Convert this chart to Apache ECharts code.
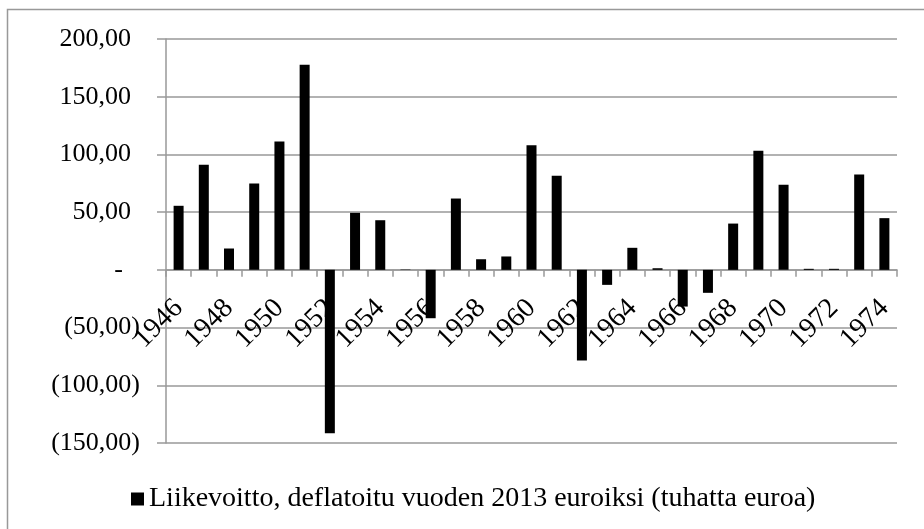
<!DOCTYPE html>
<html>
<head>
<meta charset="utf-8">
<script src="https://cdn.jsdelivr.net/npm/echarts@6/dist/echarts.min.js"></script>
<style>html,body{margin:0;padding:0;background:#fff;}#c{width:924px;height:529px;}</style>
</head>
<body>
<div id="c"></div>
<script>
const years = ['1946','1947','1948','1949','1950','1951','1952','1953','1954','1955','1956','1957','1958','1959','1960','1961','1962','1963','1964','1965','1966','1967','1968','1969','1970','1971','1972','1973','1974'];
const profit = [55.5, 91.0, 18.5, 74.8, 111.2, 177.6, -141.5, 49.4, 43.0, 0.3, -41.9, 61.8, 9.2, 11.6, 108.0, 81.5, -78.6, -13.0, 19.1, 1.4, -31.8, -19.9, 40.1, 103.1, 73.7, 0.9, 0.9, 82.6, 44.8];
const seriesName = 'Liikevoitto, deflatoitu vuoden 2013 euroiksi (tuhatta euroa)';
const yMin = -150, yMax = 200, yStep = 50;

const FONT = 'Liberation Serif';
const fmt = v => Math.abs(v).toFixed(2).replace('.', ',');

const gridTop = 39, gridBottom = 86, H = 529;
const plotH = H - gridTop - gridBottom;
const zeroOffset = -plotH * (0 - yMin) / (yMax - yMin);

const chart = echarts.init(document.getElementById('c'));
chart.setOption({
  animation: false,
  backgroundColor: '#fff',
  graphic: [{
    type: 'rect', silent: true, z: -1,
    shape: { x: 7.5, y: 9.5, width: 1000, height: 1000 },
    style: { fill: 'none', stroke: '#999', lineWidth: 1.5 }
  }],
  grid: { left: 166, right: 27, top: gridTop, bottom: gridBottom, containLabel: false },
  legend: {
    left: 126, top: 480,
    itemWidth: 13, itemHeight: 13, icon: 'rect',
    textStyle: { fontFamily: FONT, fontSize: 28, color: '#000' },
    data: [seriesName]
  },
  xAxis: {
    type: 'category', data: years, boundaryGap: true,
    offset: zeroOffset,
    axisLine: { onZero: false, lineStyle: { color: '#999', width: 1.5 } },
    axisTick: { show: true, interval: 0, length: 7, inside: false, lineStyle: { color: '#999', width: 1.5 } },
    axisLabel: { interval: 1, rotate: 45, margin: 34, fontFamily: FONT, fontSize: 28, color: '#000' },
    splitLine: { show: false }
  },
  yAxis: {
    type: 'value', min: yMin, max: yMax, interval: yStep,
    axisLine: { show: true, lineStyle: { color: '#999', width: 1.5 } },
    axisTick: { show: true, length: 9, inside: false, lineStyle: { color: '#999', width: 1.5 } },
    splitLine: { show: true, lineStyle: { color: '#999', width: 1.5 } },
    axisLabel: {
      margin: 26, fontFamily: FONT, fontSize: 26, color: '#000',
      formatter: v => v === 0 ? '{z|-}' : (v < 0 ? '(' + fmt(v) + ')' : '{p|' + fmt(v) + '}'),
      rich: {
        p: { fontFamily: FONT, fontSize: 26, color: '#000', padding: [0, 9, 0, 0] },
        z: { fontFamily: FONT, fontSize: 26, color: '#000', padding: [0, 17, 0, 0] }
      }
    }
  },
  series: [{
    name: seriesName, type: 'bar', data: profit, barWidth: 10,
    itemStyle: { color: '#000' }
  }]
});
</script>
</body>
</html>
